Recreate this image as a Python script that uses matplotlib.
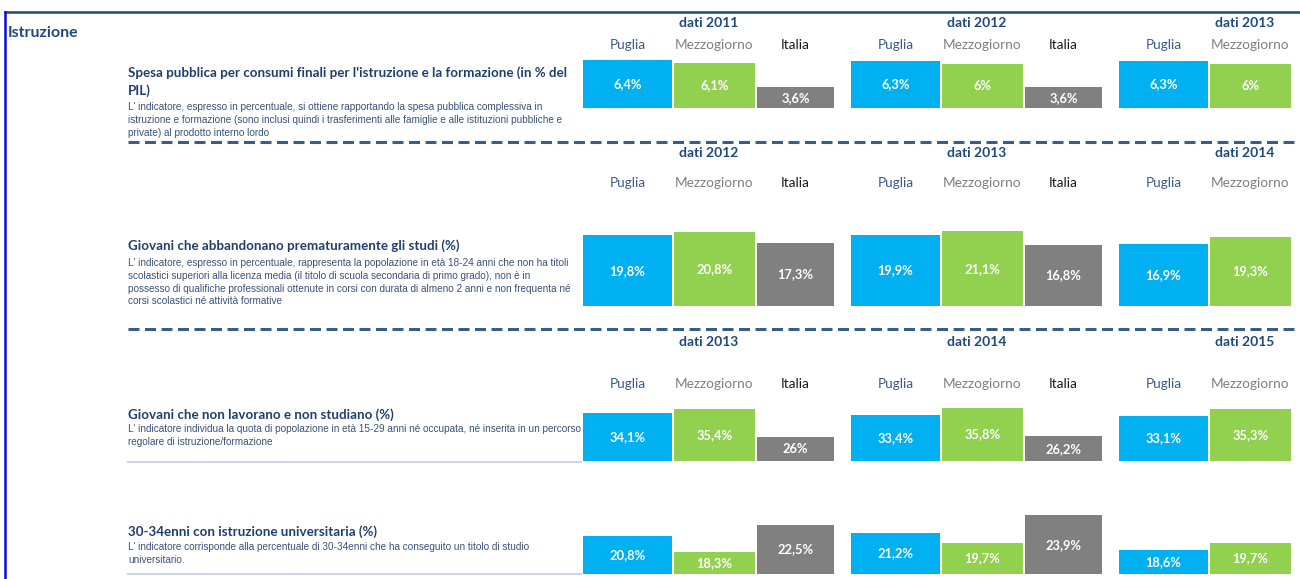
import matplotlib.pyplot as plt

# --- data -------------------------------------------------------------
regions = ['Puglia', 'Mezzogiorno', 'Italia']

years_r1 = [2011, 2012, 2013]
puglia_r1 = [6.4, 6.3, 6.3]
mezzo_r1 = [6.1, 6.0, 6.0]
italia_r1 = [3.6, 3.6]

years_r2 = [2012, 2013, 2014]
puglia_r2 = [19.8, 19.9, 16.9]
mezzo_r2 = [20.8, 21.1, 19.3]
italia_r2 = [17.3, 16.8]

years_r3 = [2013, 2014, 2015]
puglia_r3 = [34.1, 33.4, 33.1]
mezzo_r3 = [35.4, 35.8, 35.3]
italia_r3 = [26.0, 26.2]

puglia_r4 = [20.8, 21.2, 18.6]
mezzo_r4 = [18.3, 19.7, 19.7]
italia_r4 = [22.5, 23.9]

titles = [
    "Spesa pubblica per consumi finali per l'istruzione e la formazione (in % del\nPIL)",
    "Giovani che abbandonano prematuramente gli studi (%)",
    "Giovani che non lavorano e non studiano (%)",
    "30-34enni con istruzione universitaria (%)",
]
descs = [
    ["L' indicatore, espresso in percentuale, si ottiene rapportando la spesa pubblica complessiva in",
     "istruzione e formazione (sono inclusi quindi i trasferimenti alle famiglie e alle istituzioni pubbliche e",
     "private) al prodotto interno lordo"],
    ["L' indicatore, espresso in percentuale, rappresenta la popolazione in età 18-24 anni che non ha titoli",
     "scolastici superiori alla licenza media (il titolo di scuola secondaria di primo grado), non è in",
     "possesso di qualifiche professionali ottenute in corsi con durata di almeno 2 anni e non frequenta né",
     "corsi scolastici né attività formative"],
    ["L' indicatore individua la quota di popolazione in età 15-29 anni né occupata, né inserita in un percorso",
     "regolare di istruzione/formazione"],
    ["L' indicatore corrisponde alla percentuale di 30-34enni che ha conseguito un titolo di studio",
     "universitario."],
]

# --- layout (pixels) --------------------------------------------------
W, H = 1300, 579
BLUE = '#00B0F0'
GREEN = '#92D050'
GREY = '#808080'
NAVY = '#1F3F6E'
HEAD = ['#3A5A8A', '#7F7F7F', '#1A1A1A']
TFONT = 'Lato'
DFONT = 'Liberation Sans'

group_x = [583, 851, 1119]
bar_off = [0, 91, 174]
bar_w = [89, 81, 77]
x_right = 1293

rows = [
    # years, puglia, mezzo, italia, bar bottom px, base value, px per unit, head y, region y, title y, desc y
    (years_r1, puglia_r1, mezzo_r1, italia_r1, 108, 1.5, 9.8, 23, 45, 73, 107),
    (years_r2, puglia_r2, mezzo_r2, italia_r2, 306, -3.0, 3.1, 153, 183, 246, 263),
    (years_r3, puglia_r3, mezzo_r3, italia_r3, 461, 18.0, 3.0, 342, 384, 415, 429),
    (None, puglia_r4, mezzo_r4, italia_r4, 574, 15.0, 6.6, None, None, 532, 547),
]

fig = plt.figure(figsize=(W / 100, H / 100), dpi=100)
bg = fig.add_axes([0, 0, 1, 1])
bg.set_xlim(0, W)
bg.set_ylim(H, 0)
bg.axis('off')

# frame lines
bg.plot([5, W], [12, 12], color='#1F497D', lw=1.8)
bg.plot([5, 5], [12, H], color='#0A0AE6', lw=1.8)
bg.text(8, 33, 'Istruzione', fontsize=11.5, fontweight='bold', color='#1F497D',
        family=TFONT, va='center')

# separators
for y in [142, 329]:
    bg.plot([128, W], [y, y], color='#385D8A', lw=2.2, dashes=(3.6, 1.8))
for y in [462, 574]:
    bg.plot([128, 581], [y, y], color='#CCD4E4', lw=1.5)


def fmt(v):
    return ('%g' % v).replace('.', ',') + '%'


for i, (years, pug, mez, ita, ybot, base, scale, yh, yr, yt, yd) in enumerate(rows):
    # texts on the left
    lines = titles[i].split('\n')
    for k, line in enumerate(lines):
        bg.text(128, yt + 18 * k, line, fontsize=9.6, fontweight='bold', color=NAVY,
                family=TFONT, va='center')
    for k, line in enumerate(descs[i]):
        bg.text(128, yd + 12.8 * k, line, fontsize=7.2, color='#3B5278',
                family=DFONT, va='center')

    # headers
    for g in range(3):
        gx = group_x[g]
        if years is not None:
            bg.text(gx + (bar_off[2] + bar_w[2]) / 2, yh, 'dati %d' % years[g],
                    fontsize=10, fontweight='bold', color='#1F497D', family=TFONT,
                    ha='center', va='center')
            for r in range(3):
                cx = gx + bar_off[r] + bar_w[r] / 2
                if cx < x_right:
                    bg.text(cx, yr, regions[r], fontsize=9.8, color=HEAD[r],
                            family=TFONT, ha='center', va='center')

    # bars
    top = ybot - 100
    ax = fig.add_axes([583 / W, 1 - ybot / H, (x_right - 583) / W, (ybot - top) / H])
    ax.set_xlim(583, x_right)
    ax.set_ylim(base, base + (ybot - top) / scale)
    ax.axis('off')
    series = [pug, mez, ita]
    colors = [BLUE, GREEN, GREY]
    for r in range(3):
        vals = series[r]
        lefts = [group_x[g] + bar_off[r] for g in range(len(vals))]
        ax.bar(lefts, [v - base for v in vals], width=bar_w[r], bottom=base,
               align='edge', color=colors[r], linewidth=0)
        for x0, v in zip(lefts, vals):
            ax.text(x0 + bar_w[r] / 2, (base + v) / 2, fmt(v), color='white',
                    fontsize=9.3, fontweight='bold', family=TFONT,
                    ha='center', va='center')

fig.savefig('out.png', dpi=100)
